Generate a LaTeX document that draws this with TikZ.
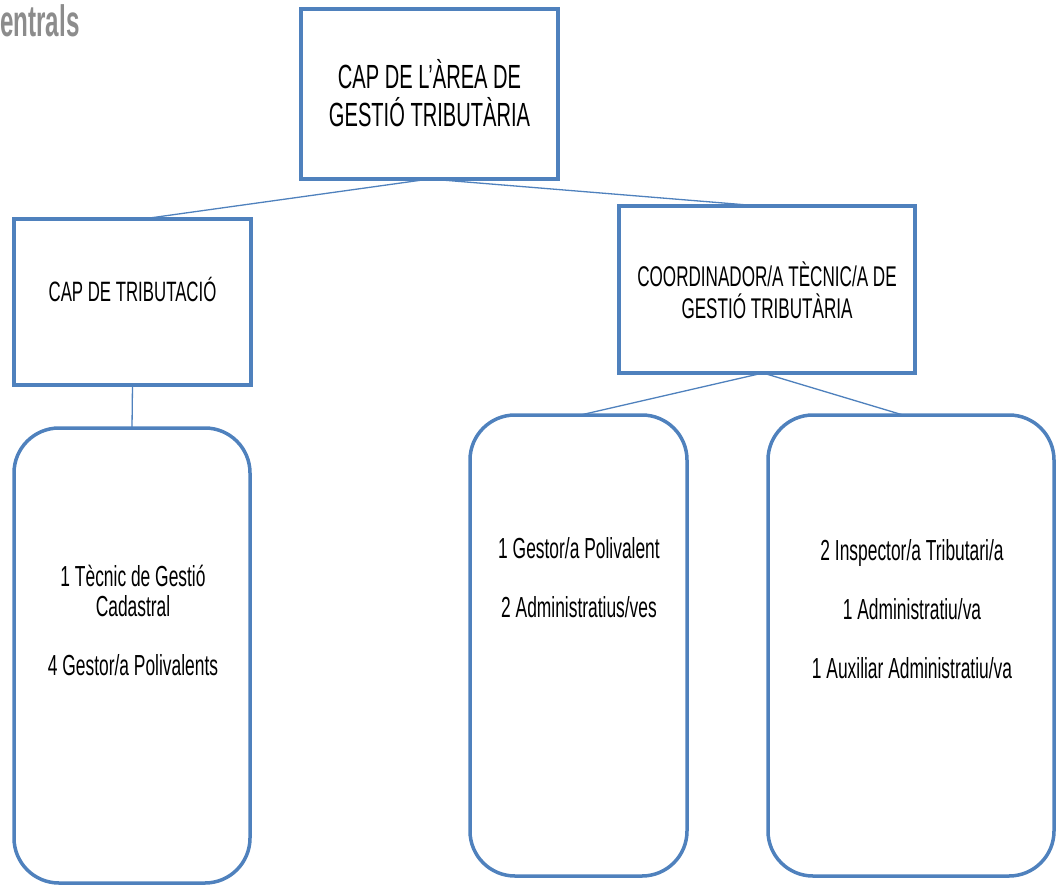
\documentclass[tikz,border=0pt]{standalone}
\usepackage{fontspec}
\setmainfont[FakeStretch=0.6]{Liberation Sans}
\newfontfamily\headfont[FakeStretch=0.55]{Liberation Sans}
\definecolor{orgblue}{HTML}{4F81BD}
\definecolor{headgrey}{HTML}{8C8C8C}

\begin{document}
\begin{tikzpicture}[x=1pt,y=-1pt,
        box/.style={draw=orgblue, line width=3.5pt, inner sep=0pt, outer sep=0pt},
        pill/.style={box, rounded corners=45pt},
        link/.style={draw=orgblue, line width=1.3pt},
        txt/.style={align=center, inner sep=0pt}]
            \useasboundingbox (0,0) rectangle (1060,886);
            \node[anchor=base west, inner sep=0pt, text=headgrey, font=\headfont\bfseries\fontsize{44}{46}\selectfont] (head) at (0,36) {entrals};
            % boxes
            \node[box, minimum width=257pt, minimum height=170pt] (area) at (429.5,94) {};
            \node[box, minimum width=237pt, minimum height=166pt] (tribut) at (132.5,302) {};
            \node[box, minimum width=296pt, minimum height=167pt] (coord) at (767,289.5) {};
            \node[pill, minimum width=236pt, minimum height=455pt] (cadastre) at (132,655.5) {};
            \node[pill, minimum width=217pt, minimum height=461pt] (gestio) at (578.5,645.5) {};
            \node[pill, minimum width=286pt, minimum height=461pt] (inspec) at (911,645.5) {};
            % texts
            \node[txt, font=\fontsize{33.5}{38}\selectfont] (areatxt) at (429.5,93) {CAP DE L’ÀREA DE\\GESTIÓ TRIBUTÀRIA};
            \node[txt, font=\fontsize{28}{32}\selectfont] (tributtxt) at (132.5,289) {CAP DE TRIBUTACIÓ};
            \node[txt, font=\fontsize{28.5}{32}\selectfont] (coordtxt) at (767,290) {COORDINADOR/A TÈCNIC/A DE\\GESTIÓ TRIBUTÀRIA};
            \node[txt, font=\fontsize{29}{29.5}\selectfont] (cadtxt) at (133,620.5) {1 Tècnic de Gestió\\Cadastral\\[29.5pt]4 Gestor/a Polivalents};
            \node[txt, font=\fontsize{29}{29.5}\selectfont] (gestxt) at (579,577.5) {1 Gestor/a Polivalent\\[29.5pt]2 Administratius/ves};
            \node[txt, font=\fontsize{29}{29.5}\selectfont] (instxt) at (912,609.5) {2 Inspector/a Tributari/a\\[29.5pt]1 Administratiu/va\\[29.5pt]1 Auxiliar Administratiu/va};
            % connectors
            \draw[link] (area.south) -- ([xshift=10pt]tribut.north);
            \draw[link] (area.south) -- ([xshift=-7pt]coord.north);
            \draw[link] (tribut.south) -- (cadastre.north);
            \draw[link] ([xshift=-4pt]coord.south) -- ([xshift=2pt]gestio.north);
            \draw[link] ([xshift=-4pt]coord.south) -- ([xshift=-8pt]inspec.north);
        \end{tikzpicture}
\end{document}
